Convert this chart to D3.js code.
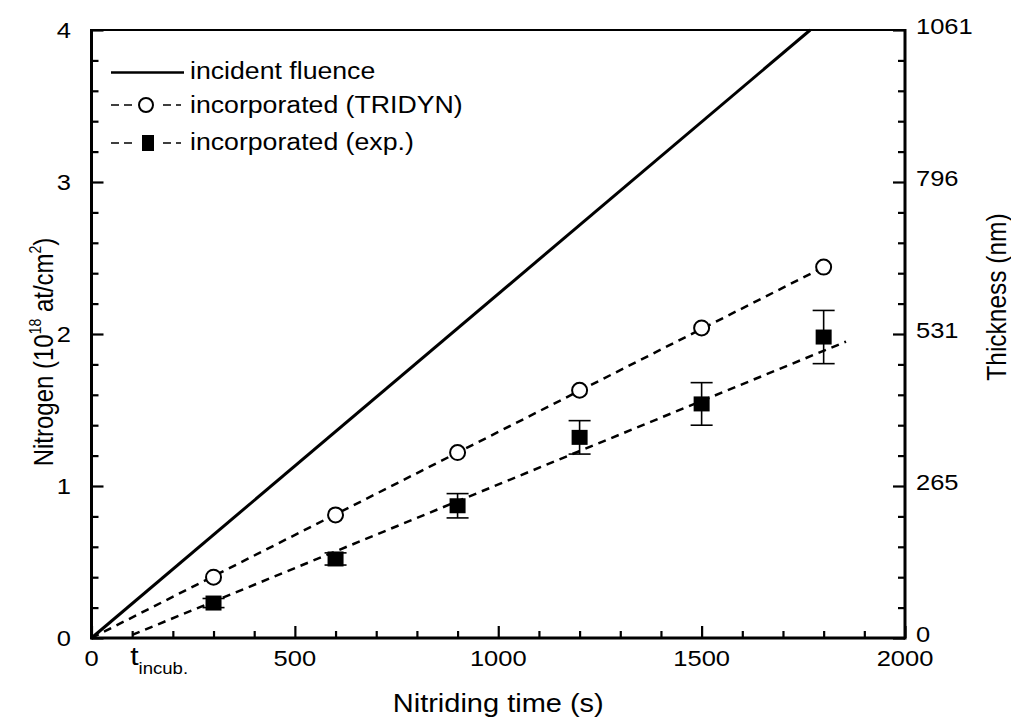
<!DOCTYPE html>
<html><head><meta charset="utf-8">
<script src="https://cdn.jsdelivr.net/npm/d3@7"></script>
<style>body{margin:0;background:#fff}svg{font-family:"Liberation Sans",Arial,sans-serif}</style>
</head><body><svg id="c" width="1011" height="722"></svg>
<script>
// ---- data ----
const times = [300, 600, 900, 1200, 1500, 1800];
const tridyn = [0.40, 0.81, 1.22, 1.63, 2.04, 2.44];
const expVals = [0.23, 0.52, 0.87, 1.32, 1.54, 1.98];
const expErr = [0.03, 0.04, 0.08, 0.11, 0.14, 0.175];
const fluenceLine = [[0, 0], [1767, 4]];
const tridynFit = [[0, 0], [1800, 2.44]];
const expFit = [[100, 0.02], [1855, 1.95]];
const xTicks = [0, 500, 1000, 1500, 2000];
const yTicks = [0, 1, 2, 3, 4];
const rightTickLabels = ["0", "265", "531", "796", "1061"];
const tIncub = 100;
const legendLabels = ["incident fluence", "incorporated (TRIDYN)", "incorporated (exp.)"];

// ---- layout ----
const svg = d3.select("#c");
const L = 91.5, R = 905, T = 30, B = 638;
const x = d3.scaleLinear().domain([0, 2000]).range([L, R]);
const y = d3.scaleLinear().domain([0, 4]).range([B, T]);
const SX = 1.16; // horizontal stretch of the lettering
const fs = 22;

function htext(g, px, py, size, anchor) {
  return g.append("text").attr("transform", `translate(${px},${py}) scale(${SX},1)`)
    .attr("font-size", size).attr("text-anchor", anchor || "start");
}

// frame
svg.append("line").attr("x1", L).attr("x2", R).attr("y1", T).attr("y2", T).attr("stroke", "#000").attr("stroke-width", 2);

const minorX = d3.range(0, 2001, 100).filter(v => v % 500 !== 0);
const minorY = d3.range(0, 4.001, 0.2).map(v => +v.toFixed(1)).filter(v => Math.abs(v - Math.round(v)) > 1e-6);
function ticksGroup(g) { g.selectAll(".domain").remove(); g.selectAll("text").remove(); g.selectAll("line").attr("stroke", "#000").attr("stroke-width", 2.2); }

svg.append("g").attr("transform", `translate(0,${B})`)
  .call(d3.axisTop(x).tickValues(xTicks).tickSize(12)).call(ticksGroup);
svg.append("g").attr("transform", `translate(0,${B})`)
  .call(d3.axisTop(x).tickValues(minorX).tickSize(7)).call(ticksGroup);
svg.append("g").attr("transform", `translate(${L},0)`)
  .call(d3.axisRight(y).tickValues(yTicks).tickSize(12)).call(ticksGroup);
svg.append("g").attr("transform", `translate(${L},0)`)
  .call(d3.axisRight(y).tickValues(minorY).tickSize(7)).call(ticksGroup);
svg.append("g").attr("transform", `translate(${R},0)`)
  .call(d3.axisLeft(y).tickValues(yTicks).tickSize(12)).call(ticksGroup);
svg.append("g").attr("transform", `translate(${R},0)`)
  .call(d3.axisLeft(y).tickValues(minorY).tickSize(7)).call(ticksGroup);

svg.append("line").attr("x1", L).attr("x2", L).attr("y1", T - 1).attr("y2", B + 1.5).attr("stroke", "#000").attr("stroke-width", 3);
svg.append("line").attr("x1", R).attr("x2", R).attr("y1", T - 1).attr("y2", B + 1.5).attr("stroke", "#000").attr("stroke-width", 3);
svg.append("line").attr("x1", L).attr("x2", R).attr("y1", B).attr("y2", B).attr("stroke", "#000").attr("stroke-width", 3);

// tick labels
const gx = svg.append("g");
xTicks.forEach(d => htext(gx, x(d), B + 28, fs, "middle").text(d));
const gl = svg.append("g");
yTicks.forEach(d => htext(gl, 71, y(d) + 8, fs, "end").text(d));
const gr = svg.append("g");
yTicks.forEach((d, i) => htext(gr, 916, y(d) + 3.5, fs, "start").text(rightTickLabels[i]));

// t_incub label
const ti = htext(svg, x(tIncub) - 2, B + 27, 26, "start");
ti.append("tspan").text("t");
ti.append("tspan").attr("font-size", 16).attr("dy", 9).text("incub.");

// axis titles
htext(svg, (L + R) / 2, 712, 25, "middle").text("Nitriding time (s)");
const yl = svg.append("text").attr("transform", `translate(53,352) rotate(-90) scale(1,${SX})`)
  .attr("text-anchor", "middle").attr("font-size", 24);
yl.append("tspan").text("Nitrogen (10");
yl.append("tspan").attr("font-size", 14).attr("dy", -10).text("18");
yl.append("tspan").attr("dy", 10).text(" at/cm");
yl.append("tspan").attr("font-size", 14).attr("dy", -10).text("2");
yl.append("tspan").attr("dy", 10).text(")");
svg.append("text").attr("transform", `translate(1006,297) rotate(-90) scale(1,${SX})`)
  .attr("text-anchor", "middle").attr("font-size", 24.5).text("Thickness (nm)");

// lines
const line = d3.line().x(d => x(d[0])).y(d => y(d[1]));
svg.append("path").attr("d", line(fluenceLine)).attr("fill", "none").attr("stroke", "#000").attr("stroke-width", 3);
svg.append("path").attr("d", line(tridynFit)).attr("fill", "none").attr("stroke", "#000").attr("stroke-width", 2.5).attr("stroke-dasharray", "8,6");
svg.append("path").attr("d", line(expFit)).attr("fill", "none").attr("stroke", "#000").attr("stroke-width", 2.5).attr("stroke-dasharray", "8,6");

// error bars
const eb = svg.append("g").attr("stroke", "#000").attr("stroke-width", 1.6);
times.forEach((t, i) => {
  const cx = x(t), y1 = y(expVals[i] + expErr[i]), y2 = y(expVals[i] - expErr[i]);
  eb.append("line").attr("x1", cx).attr("x2", cx).attr("y1", y1).attr("y2", y2);
  eb.append("line").attr("x1", cx - 11).attr("x2", cx + 11).attr("y1", y1).attr("y2", y1);
  eb.append("line").attr("x1", cx - 11).attr("x2", cx + 11).attr("y1", y2).attr("y2", y2);
});

// markers
svg.append("g").selectAll("circle").data(times).join("circle")
  .attr("cx", d => x(d)).attr("cy", (d, i) => y(tridyn[i])).attr("r", 7.5)
  .attr("fill", "#fff").attr("stroke", "#000").attr("stroke-width", 2);
svg.append("g").selectAll("rect").data(times).join("rect")
  .attr("x", d => x(d) - 8).attr("y", (d, i) => y(expVals[i]) - 7.5).attr("width", 16).attr("height", 15)
  .attr("fill", "#000");

// legend
const lg = svg.append("g");
const rows = [72.5, 105, 143];
lg.append("line").attr("x1", 111).attr("x2", 184).attr("y1", rows[0]).attr("y2", rows[0]).attr("stroke", "#000").attr("stroke-width", 2.5);
[1, 2].forEach(r => {
  lg.append("line").attr("x1", 111).attr("x2", 181).attr("y1", rows[r]).attr("y2", rows[r])
    .attr("stroke", "#000").attr("stroke-width", 1.6).attr("stroke-dasharray", "8,5");
  lg.append("rect").attr("x", 135).attr("y", rows[r] - 10).attr("width", 24).attr("height", 20).attr("fill", "#fff");
});
lg.append("circle").attr("cx", 146).attr("cy", rows[1]).attr("r", 7).attr("fill", "#fff").attr("stroke", "#000").attr("stroke-width", 2);
lg.append("rect").attr("x", 142).attr("y", rows[2] - 8).attr("width", 12).attr("height", 16).attr("fill", "#000");
const ltxt = [79, 113, 150];
legendLabels.forEach((d, i) => htext(lg, 190, ltxt[i], 23, "start").text(d));
</script></body></html>
